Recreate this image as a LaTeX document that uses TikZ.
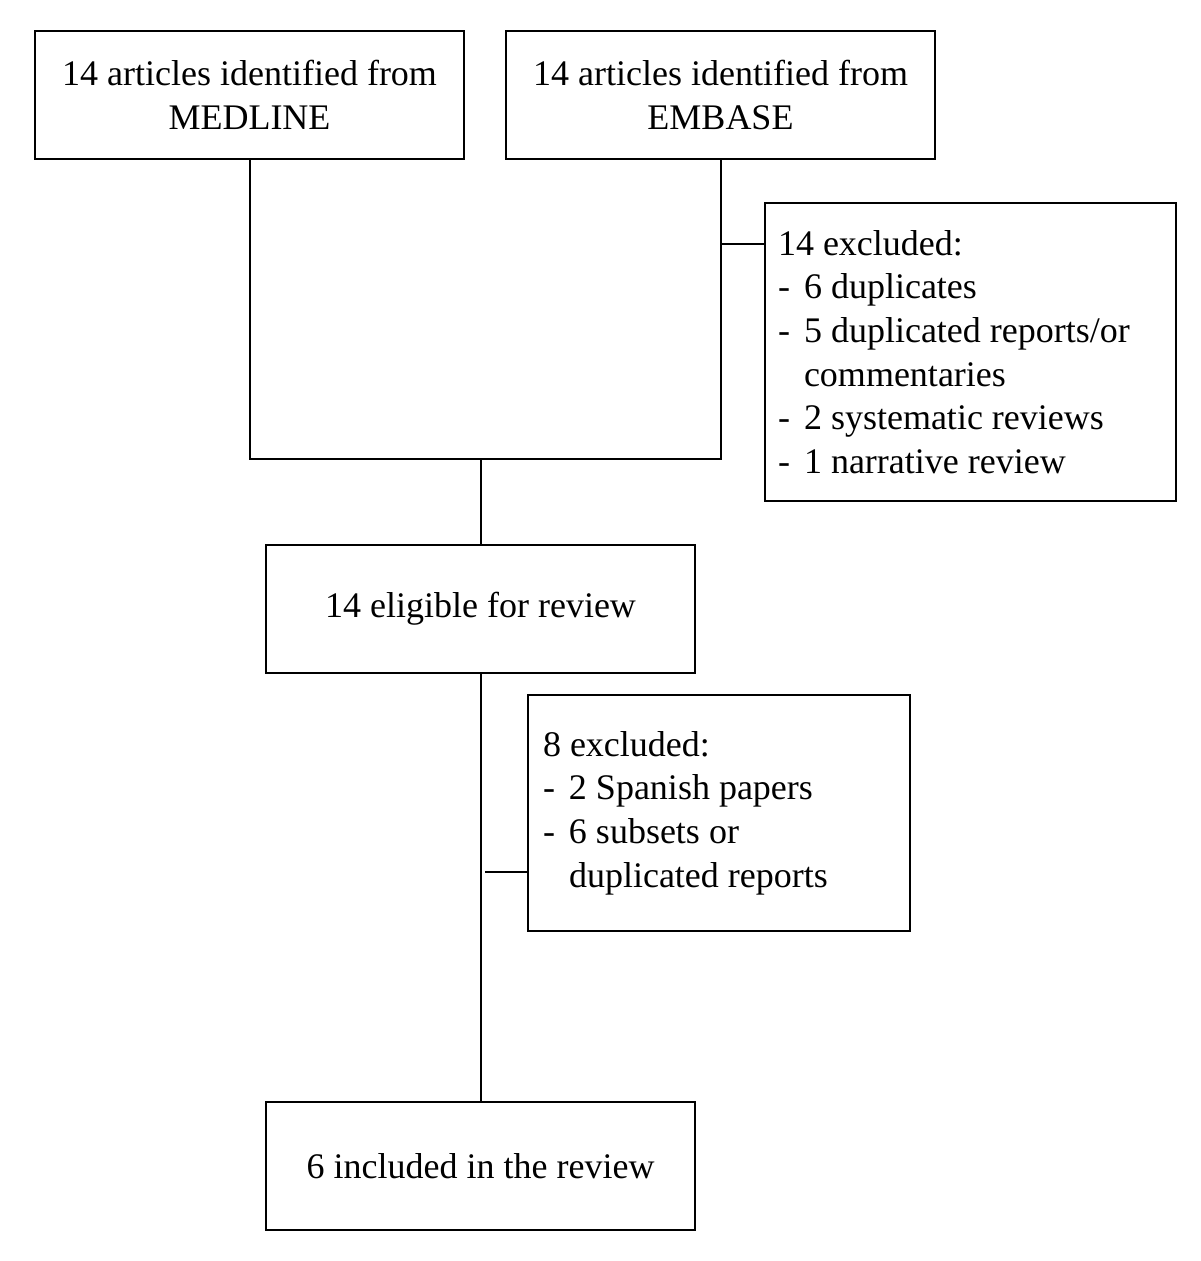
\documentclass[tikz,border=0pt]{standalone}
\usepackage{fontspec}
\setmainfont{Liberation Serif}
\newcommand\itm[1]{\makebox[26pt][l]{-}#1}
\newcommand\cnt[1]{\hspace*{26pt}#1}
\begin{document}
\begin{tikzpicture}[x=1pt,y=-1pt,
  every node/.style={font=\fontsize{36}{43.6}\selectfont},
  mainbox/.style={draw,line width=2pt,minimum width=429pt,minimum height=128pt,align=center,inner sep=0pt},
  exbox/.style={draw,line width=2pt,align=left,inner ysep=0pt},
  conn/.style={line width=2pt}]
\useasboundingbox (0,0) rectangle (1200,1261);
\node[mainbox] (med) at (249.5,95) {14 articles identified from\\MEDLINE};
\node[mainbox] (emb) at (720.5,95) {14 articles identified from\\EMBASE};
\node[mainbox] (elig) at (480.5,609) {14 eligible for review};
\node[mainbox] (incl) at (480.5,1166) {6 included in the review};
\node[exbox,anchor=west,inner xsep=13pt,text width=385pt,minimum height=298pt] (ex1) at (764,352)
  {\spaceskip=0pt\xspaceskip=0pt\relax 14 excluded:\\\itm{6 duplicates}\\\itm{5 duplicated reports/or}\\\cnt{commentaries}\\\itm{2 systematic reviews}\\\itm{1 narrative review}};
\node[exbox,anchor=west,inner xsep=15pt,text width=352pt,minimum height=236pt] (ex2) at (527,813)
  {\spaceskip=0pt\xspaceskip=0pt\relax 8 excluded:\\\itm{2 Spanish papers}\\\itm{6 subsets or}\\\cnt{duplicated reports}};
\coordinate (jl) at (249.5,459);
\coordinate (jr) at (720.5,459);
\coordinate (jm) at (480.5,459);
\coordinate (e1) at (720.5,244);
\coordinate (e2) at (485,872);
\draw[conn] (med.south) -- (jl) -- (jr) -- (emb.south);
\draw[conn] (jm) -- (elig.north);
\draw[conn] (e1) -- (e1 -| ex1.west);
\draw[conn] (elig.south) -- (incl.north);
\draw[conn] (e2) -- (e2 -| ex2.west);
\end{tikzpicture}
\end{document}
